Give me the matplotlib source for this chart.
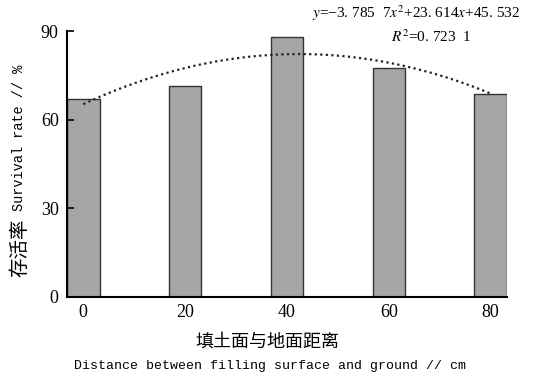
import matplotlib.pyplot as plt
import numpy as np

plt.rcParams['font.family'] = ['Liberation Serif', 'Noto Sans CJK SC']
plt.rcParams['mathtext.fontset'] = 'stix'

# data
distance = ['0', '20', '40', '60', '80']
survival = [67.1, 71.6, 88.2, 77.5, 68.9]
# fitted trend shown on the chart: y = a x^2 + b x + c, x = 1..5
fit_coef = [-3.7857, 23.614, 45.532]

fig = plt.figure(figsize=(5.39, 3.78), dpi=100)
ax = fig.add_axes([0.1243, 0.2143, 0.8163, 0.7024])

pos = np.arange(len(distance))
ax.bar(pos, survival, width=0.32, color='#a6a6a6', edgecolor='#333333', linewidth=1.0)

# trend line, curve from the displayed equation
xs = np.linspace(1, len(distance), 200)
ys = np.polyval(fit_coef, xs)
ax.plot(xs - 1, ys, color='#222222', linestyle=(0, (1, 1.5)), linewidth=1.6)

ax.set_xlim(-0.16, 4.16)
ax.set_ylim(0, 90)
ax.set_yticks([0, 30, 60, 90])
ax.set_xticks(pos)
ax.set_xticklabels(distance)
ax.tick_params(axis='y', direction='in', length=5, width=1.2, labelsize=13, pad=6)
ax.tick_params(axis='x', length=0, labelsize=13, pad=5)
for s in ['top', 'right']:
    ax.spines[s].set_visible(False)
for s in ['left', 'bottom']:
    ax.spines[s].set_linewidth(1.5)

# y label: Chinese part and English part
fig.text(0.036, 1 - 277 / 378, '存活率', rotation=90, ha='center', va='bottom',
         fontsize=14, family=['Noto Sans CJK SC'])
fig.text(0.036, 1 - 211 / 378, 'Survival rate // %', rotation=90, ha='center',
         va='bottom', fontsize=9.8, family=['Liberation Mono'])

fig.text(0.497, 1 - 342 / 378, '填土面与地面距离', ha='center', va='center',
         fontsize=13, family=['Noto Sans CJK SC'])
fig.text(0.5, 1 - 366 / 378, 'Distance between filling surface and ground // cm',
         ha='center', va='center', fontsize=9.5, family=['Liberation Mono'])

fig.text(0.965, 0.99, r'$y$=−3. 785  7$x^2$+23. 614$x$+45. 532',
         ha='right', va='top', fontsize=11)
fig.text(0.80, 0.925, r'$R^2$=0. 723  1', ha='center', va='top', fontsize=11)

fig.savefig('out.png', dpi=100)
